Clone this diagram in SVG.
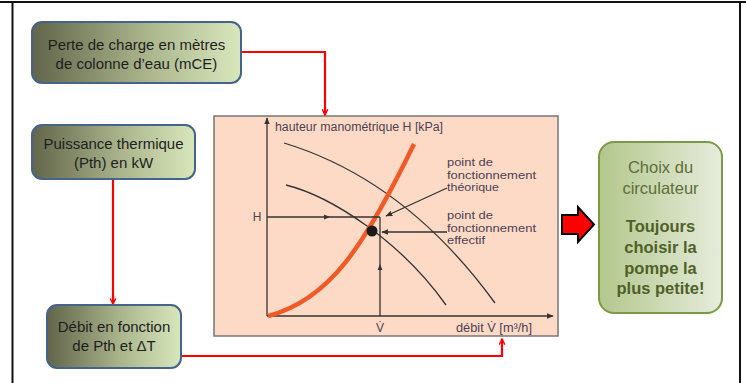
<svg xmlns="http://www.w3.org/2000/svg" width="746" height="383" viewBox="0 0 746 383">
<defs>
<linearGradient id="gBox" x1="0" y1="0" x2="1" y2="0">
<stop offset="0" stop-color="#62654a"/>
<stop offset="0.55" stop-color="#aab58c"/>
<stop offset="1" stop-color="#d9e7bd"/>
</linearGradient>
<linearGradient id="gGreen" x1="0" y1="0" x2="1" y2="0">
<stop offset="0" stop-color="#b3c78c"/>
<stop offset="1" stop-color="#e6ecdc"/>
</linearGradient>
<marker id="redHead" viewBox="0 0 10 10" refX="9" refY="5" markerWidth="7" markerHeight="7" markerUnits="userSpaceOnUse" orient="auto">
<path d="M1,1 L9,5 L1,9" fill="none" stroke="#ff0000" stroke-width="2"/>
</marker>
<marker id="blkHead" viewBox="0 0 10 10" refX="9" refY="5" markerWidth="7" markerHeight="7" markerUnits="userSpaceOnUse" orient="auto">
<path d="M0,1 L10,5 L0,9 Z" fill="#333"/>
</marker>
<marker id="midHead" viewBox="0 0 10 10" refX="5" refY="5" markerWidth="6" markerHeight="6" markerUnits="userSpaceOnUse" orient="auto">
<path d="M0,1 L10,5 L0,9 Z" fill="#333"/>
</marker>
</defs>
<style>
.frame{stroke:#111;stroke-width:2;fill:none}
.box{fill:url(#gBox);stroke:#44648e;stroke-width:2}
.btxt{font-family:"Liberation Sans",Arial,sans-serif;font-size:15px;fill:#1e1e1e;text-anchor:middle}
.red{fill:none;stroke:#ff0000;stroke-width:2.2;marker-end:url(#redHead)}
.ax{fill:none;stroke:#333;stroke-width:1.3}
.ctxt{font-family:"Liberation Sans",Arial,sans-serif;font-size:12px;fill:#4e3f52}
.lbl{font-size:11.5px}
.gtxt{font-family:"Liberation Sans",Arial,sans-serif;font-size:16.5px;fill:#5d6e38;text-anchor:middle}
.gb{font-weight:bold;fill:#4f6128}
</style>
<rect width="746" height="383" fill="#ffffff"/>
<g id="frame">
<line class="frame" x1="0" y1="2" x2="746" y2="2"/>
<line class="frame" x1="12.5" y1="2" x2="12.5" y2="383"/>
<line class="frame" x1="740" y1="2" x2="740" y2="383"/>
</g>
<g id="chart">
<rect x="214" y="116" width="344" height="220" fill="#fddac6" stroke="#777" stroke-width="1.5"/>
<line class="ax" x1="267" y1="316" x2="267" y2="118" marker-end="url(#blkHead)"/>
<line class="ax" x1="267" y1="316" x2="553" y2="316" marker-end="url(#blkHead)"/>
<path class="ax" d="M284,143 C340,160 420,200 495,303"/>
<path class="ax" d="M286,185 C330,196 400,240 446,305"/>
<path d="M268,316 C330,300 365,245 414,144" fill="none" stroke="#f05a28" stroke-width="4.5"/>
<polyline class="ax" points="267,217 327,217 380,217" marker-mid="url(#midHead)"/>
<polyline class="ax" points="380,316 380,267 380,217" marker-mid="url(#midHead)"/>
<line class="ax" x1="447" y1="188" x2="386" y2="216" marker-end="url(#blkHead)"/>
<line class="ax" x1="447" y1="232" x2="382" y2="232" marker-end="url(#blkHead)"/>
<circle cx="372" cy="231" r="5.5" fill="#1a1a1a"/>
<text class="ctxt" x="275" y="131" textLength="168" lengthAdjust="spacingAndGlyphs">hauteur manométrique H [kPa]</text>
<text class="ctxt" x="257" y="221" text-anchor="middle">H</text>
<text class="ctxt" x="380" y="332" text-anchor="middle">V̇</text>
<text class="ctxt" x="456" y="332" textLength="76" lengthAdjust="spacingAndGlyphs">débit V̇ [m³/h]</text>
<text class="ctxt lbl" x="447" y="166" textLength="46" lengthAdjust="spacingAndGlyphs">point de</text>
<text class="ctxt lbl" x="447" y="178.5" textLength="89" lengthAdjust="spacingAndGlyphs">fonctionnement</text>
<text class="ctxt lbl" x="447" y="191" textLength="52" lengthAdjust="spacingAndGlyphs">théorique</text>
<text class="ctxt lbl" x="447" y="219" textLength="46" lengthAdjust="spacingAndGlyphs">point de</text>
<text class="ctxt lbl" x="447" y="231.5" textLength="89" lengthAdjust="spacingAndGlyphs">fonctionnement</text>
<text class="ctxt lbl" x="447" y="244" textLength="38" lengthAdjust="spacingAndGlyphs">effectif</text>
</g>
<g id="connectors">
<polyline class="red" points="241,52 325,52 325,115"/>
<polyline class="red" points="113,179 113,304"/>
<polyline class="red" points="181,356 502,356 502,339"/>
<path d="M562,215 L578,215 L578,207 L594,224.5 L578,242 L578,234 L562,234 Z" fill="#ff0000" stroke="#000" stroke-width="2" stroke-linejoin="miter"/>
</g>
<g id="node-perte">
<rect class="box" x="32" y="22" width="209" height="61" rx="10"/>
<text class="btxt" x="136.5" y="49.5">Perte de charge en mètres</text>
<text class="btxt" x="136.5" y="68.5">de colonne d’eau (mCE)</text>
</g>
<g id="node-puissance">
<rect class="box" x="32" y="125" width="163" height="54" rx="10"/>
<text class="btxt" x="113.5" y="148.5">Puissance thermique</text>
<text class="btxt" x="113.5" y="168">(Pth) en kW</text>
</g>
<g id="node-debit">
<rect class="box" x="47" y="305" width="134" height="63" rx="10"/>
<text class="btxt" x="114" y="332">Débit en fonction</text>
<text class="btxt" x="114" y="351">de Pth et ΔT</text>
</g>
<g id="node-choix">
<rect x="599" y="142" width="123" height="171" rx="15" fill="url(#gGreen)" stroke="#7a9a47" stroke-width="2"/>
<text class="gtxt" x="660.5" y="173">Choix du</text>
<text class="gtxt" x="660.5" y="194">circulateur</text>
<text class="gtxt gb" x="660.5" y="232">Toujours</text>
<text class="gtxt gb" x="660.5" y="253">choisir la</text>
<text class="gtxt gb" x="660.5" y="273.5">pompe la</text>
<text class="gtxt gb" x="660.5" y="294">plus petite!</text>
</g>
</svg>
